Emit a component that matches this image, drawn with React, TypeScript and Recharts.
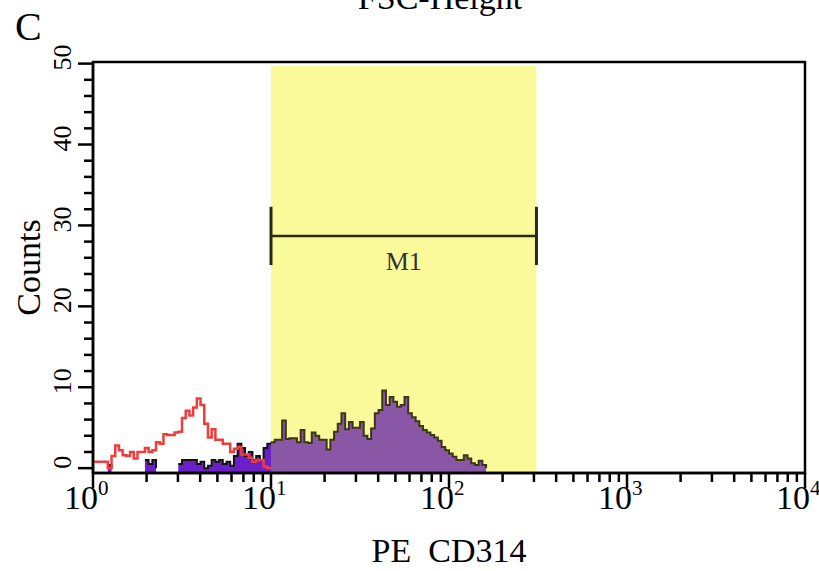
import React from 'react';
import { ComposedChart, Area, Line, XAxis, YAxis, ReferenceArea, ReferenceLine } from 'recharts';

// channel resolution: 48 channels per decade, 4 decades (10^0 .. 10^4)
const CH_PER_DECADE = 48;
const decadeExponents = ['0', '1', '2', '3', '4'];

// isotype control (red outline), channels 0..48
const redCounts = [
  0.8, 0.8, 0.8, 0.8, 0, 1.5, 2.8, 2.2, 1.6, 1.5,
  2, 1.2, 2, 2, 2.5, 2, 2.2, 3.2, 3, 4.2,
  4.1, 4.1, 4.4, 4.5, 6.2, 7.1, 6.5, 7.5, 8.6, 7.8,
  5.5, 3.8, 4.8, 3.5, 3.5, 3, 3, 2, 2.4, 2.6,
  1.7, 1.7, 1.3, 0.8, 1, 1, 0.2, 0, 0,
];

// PE CD314 stained sample (purple filled), channels 0..106
const purpleCounts = [
  null, null, null, null, 0.4, 0, null, null, null, null,
  null, null, null, null, 1, 0.5, 1, 0, null, null,
  null, null, null, 0.5, 1, 1, 1, 1, 0.5, 0.8,
  0, 0.3, 1, 0.8, 1, 0.5, 0.8, 0.3, 1.5, 3,
  2.5, 1.5, 2, 1, 1.5, 1, 2.5, 3, 3.2, 3.5,
  3.5, 5.9, 3.6, 3.7, 3.7, 3.2, 4.7, 3.2, 3.1, 4.4,
  4, 3.5, 3.5, 2.3, 3.5, 4.5, 5.5, 6.8, 4.8, 5.7,
  5, 5, 5.7, 4, 3.6, 4.9, 6.8, 7.2, 9.6, 7.8,
  8.8, 8.2, 7.6, 7.8, 8.8, 6.8, 6.3, 5.8, 5.2, 4.7,
  4.4, 4.1, 3.8, 3.4, 2.6, 2.2, 1.8, 1.4, 1, 1,
  1.6, 1.2, 0.6, 0.4, 0.9, 0.4, 0,
];

const gateRange = [10, 310];
const gateCount = 28.7;
const gateLabel = 'M1';

const ch = (v: number) => CH_PER_DECADE * Math.log10(v);
const gateLo = ch(gateRange[0]);
const gateHi = ch(gateRange[1]);
const X_MAX = CH_PER_DECADE * (decadeExponents.length - 1);

const rows = purpleCounts.map((p, i) => ({
  ch: i,
  red: i < redCounts.length ? redCounts[i] : null,
  pOut: i <= gateLo ? p : null,
  pIn: i >= gateLo ? p : null,
}));

const xTicks: number[] = [];
for (let d = 0; d < decadeExponents.length - 1; d++) {
  for (let k = 1; k <= 9; k++) xTicks.push(CH_PER_DECADE * (d + Math.log10(k)));
}
xTicks.push(X_MAX);

const yTicks: number[] = [];
for (let v = 0; v <= 50; v += 2) yTicks.push(v);

const FONT = '"Liberation Serif", "DejaVu Serif", serif';

const XTick = (props: any) => {
  const { x, y, payload } = props;
  const d = payload.value / CH_PER_DECADE;
  const major = Math.abs(d - Math.round(d)) < 1e-6;
  return (
    <g>
      <line x1={x} x2={x} y1={y} y2={y + (major ? 15 : 9)} stroke="#000" strokeWidth={2.5} />
      {major && (
        <g fontFamily={FONT} fill="#000">
          <text x={x + 5} y={y + 36} textAnchor="end" fontSize={34}>10</text>
          <text x={x + 5} y={y + 22} textAnchor="start" fontSize={21}>{decadeExponents[Math.round(d)]}</text>
        </g>
      )}
    </g>
  );
};

const YTick = (props: any) => {
  const { x, y, payload } = props;
  const major = payload.value % 10 === 0;
  const lx = x - 30;
  const ly = y - 6;
  return (
    <g>
      <line x1={x - (major ? 15 : 9)} x2={x} y1={y} y2={y} stroke="#000" strokeWidth={2.5} />
      {major && (
        <text
          x={lx}
          y={ly}
          transform={`rotate(-90, ${lx}, ${ly})`}
          textAnchor="middle"
          dominantBaseline="central"
          fontFamily={FONT}
          fontSize={26}
          fill="#000"
        >
          {payload.value}
        </text>
      )}
    </g>
  );
};

const CountsLabel = (props: any) => {
  const vb = props.viewBox || { x: 0, y: 62, width: 93, height: 411 };
  const cx = 28;
  const cy = vb.y + vb.height / 2;
  return (
    <text x={cx} y={cy} transform={`rotate(-90, ${cx}, ${cy})`} textAnchor="middle" dominantBaseline="central"
      fontFamily={FONT} fontSize={34} fill="#000">
      Counts
    </text>
  );
};

const XLabel = (props: any) => {
  const vb = props.viewBox || { x: 93, y: 473, width: 712, height: 98 };
  return (
    <text x={vb.x + vb.width / 2} y={vb.y + 89} textAnchor="middle" fontFamily={FONT} fontSize={34} fill="#000"
      style={{ whiteSpace: 'pre' }}>
      {'PE  CD314'}
    </text>
  );
};

export default function App() {
  return (
    <div style={{ position: 'absolute', left: 0, top: 0, width: 819, height: 571, background: '#fff' }}>
      <ComposedChart width={819} height={571} data={rows} margin={{ top: 62, right: 14, bottom: 0, left: 0 }}>
        <XAxis
          dataKey="ch"
          type="number"
          domain={[0, X_MAX]}
          ticks={xTicks}
          interval={0}
          height={98}
          tickLine={false}
          tickSize={0}
          tickMargin={0}
          axisLine={{ stroke: '#000', strokeWidth: 2.5 }}
          tick={<XTick />}
          label={<XLabel />}
        />
        <YAxis
          type="number"
          domain={[-0.6, 50.2]}
          ticks={yTicks}
          interval={0}
          width={93}
          tickLine={false}
          tickSize={0}
          tickMargin={0}
          axisLine={{ stroke: '#000', strokeWidth: 2.5 }}
          tick={<YTick />}
          label={<CountsLabel />}
        />
        <ReferenceArea x1={gateLo} x2={gateHi} y1={-0.6} y2={49.7} fill="#fafa9a" fillOpacity={1} stroke="none" />
        <Area
          dataKey="pOut"
          type="stepAfter"
          baseValue={-0.6}
          fill="#6b1fc9"
          fillOpacity={1}
          stroke="#111"
          strokeWidth={2}
          dot={false}
          activeDot={false}
          isAnimationActive={false}
        />
        <Area
          dataKey="pIn"
          type="stepAfter"
          baseValue={-0.6}
          fill="#8a56a6"
          fillOpacity={1}
          stroke="#3a3812"
          strokeWidth={2}
          dot={false}
          activeDot={false}
          isAnimationActive={false}
        />
        <Line
          dataKey="red"
          type="stepAfter"
          stroke="#f23c3c"
          strokeWidth={2.5}
          dot={false}
          activeDot={false}
          isAnimationActive={false}
        />
        <ReferenceLine
          segment={[{ x: gateLo, y: gateCount }, { x: gateHi, y: gateCount }]}
          stroke="#2a2a10"
          strokeWidth={2.5}
          label={{ value: gateLabel, position: 'bottom', offset: 16, fill: '#333', fontSize: 26, fontFamily: FONT }}
        />
        <ReferenceLine segment={[{ x: gateLo, y: 25.1 }, { x: gateLo, y: 32.3 }]} stroke="#2a2a10" strokeWidth={3} />
        <ReferenceLine segment={[{ x: gateHi, y: 25.1 }, { x: gateHi, y: 32.3 }]} stroke="#2a2a10" strokeWidth={3} />
        <ReferenceArea x1={0} x2={X_MAX} y1={-0.6} y2={50.2} fill="none" stroke="#000" strokeWidth={2.5} />
      </ComposedChart>
      <svg width={819} height={571} style={{ position: 'absolute', left: 0, top: 0, pointerEvents: 'none' }}>
        <text x={440} y={9} textAnchor="middle" fontFamily={FONT} fontSize={34} fill="#000">FSC-Height</text>
        <text x={15} y={40} fontFamily={FONT} fontSize={40} fill="#000">C</text>
      </svg>
    </div>
  );
}
